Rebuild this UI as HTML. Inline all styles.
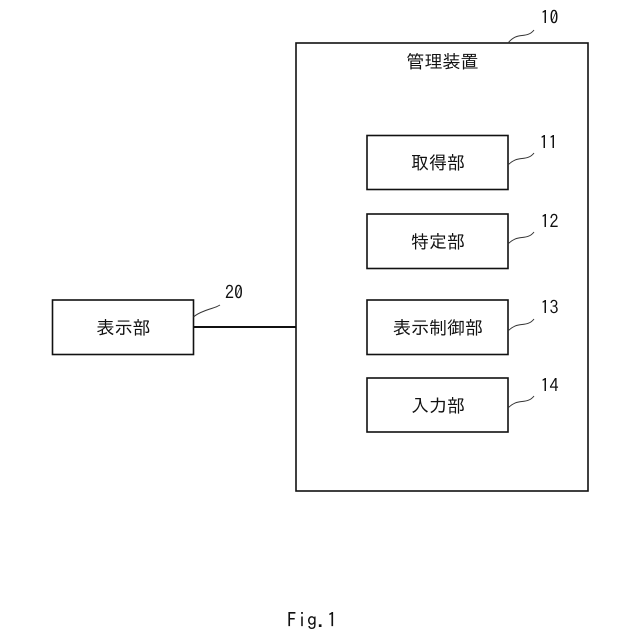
<!DOCTYPE html>
<html>
<head>
<meta charset="utf-8">
<style>
html,body{margin:0;padding:0;background:#fff;width:640px;height:640px;overflow:hidden}
svg{display:block}
text{font-family:"IPAGothic","Noto Sans CJK JP","Liberation Sans",sans-serif;fill:#111}
</style>
</head>
<body>
<svg width="640" height="640" viewBox="0 0 640 640" xmlns="http://www.w3.org/2000/svg">
<rect width="640" height="640" fill="#fff"/>
<g fill="none" stroke="#111" stroke-width="1.6">
<rect x="296" y="43" width="292" height="448"/>
<rect x="367" y="135.500" width="141" height="54"/>
<rect x="367" y="214" width="141" height="54.500"/>
<rect x="367" y="300" width="141" height="54.500"/>
<rect x="367" y="378" width="141" height="54"/>
<rect x="52.500" y="300" width="141" height="54.500"/>
<path d="M193.500 327H296" stroke-width="2"/>
</g>
<g fill="none" stroke="#333" stroke-width="1">
<path d="M508 43C513 37 517 36 522 35.500C527 35 531 34 534 30"/>
<path d="M508 165C513 160 517 159 522 158.500C527 158 531 157 534 153"/>
<path d="M508 244C513 239 517 238 522 237.500C527 237 531 236 534 232"/>
<path d="M508 331C513 326 517 325 522 324.500C527 324 531 323 534 319"/>
<path d="M508 408C513 403 517 402 522 401.500C527 401 531 400 534 396"/>
<path d="M193.500 317C198 313 202 312 207 310C212 308 215 308 220 305"/>
</g>
<g font-size="18" text-anchor="middle">
<text x="442.500" y="68">管理装置</text>
<text x="438" y="169">取得部</text>
<text x="438" y="248">特定部</text>
<text x="438" y="334">表示制御部</text>
<text x="438" y="412">入力部</text>
<text x="123.500" y="334">表示部</text>
</g>
<g font-size="18" text-anchor="middle">
<text x="549.500" y="24">10</text>
<text x="548.500" y="149">11</text>
<text x="549.500" y="228">12</text>
<text x="549.500" y="314">13</text>
<text x="549.500" y="392">14</text>
<text x="234" y="299">20</text>
</g>
<text x="312" y="627" font-size="20" text-anchor="middle">Fig.1</text>
</svg>
</body>
</html>
